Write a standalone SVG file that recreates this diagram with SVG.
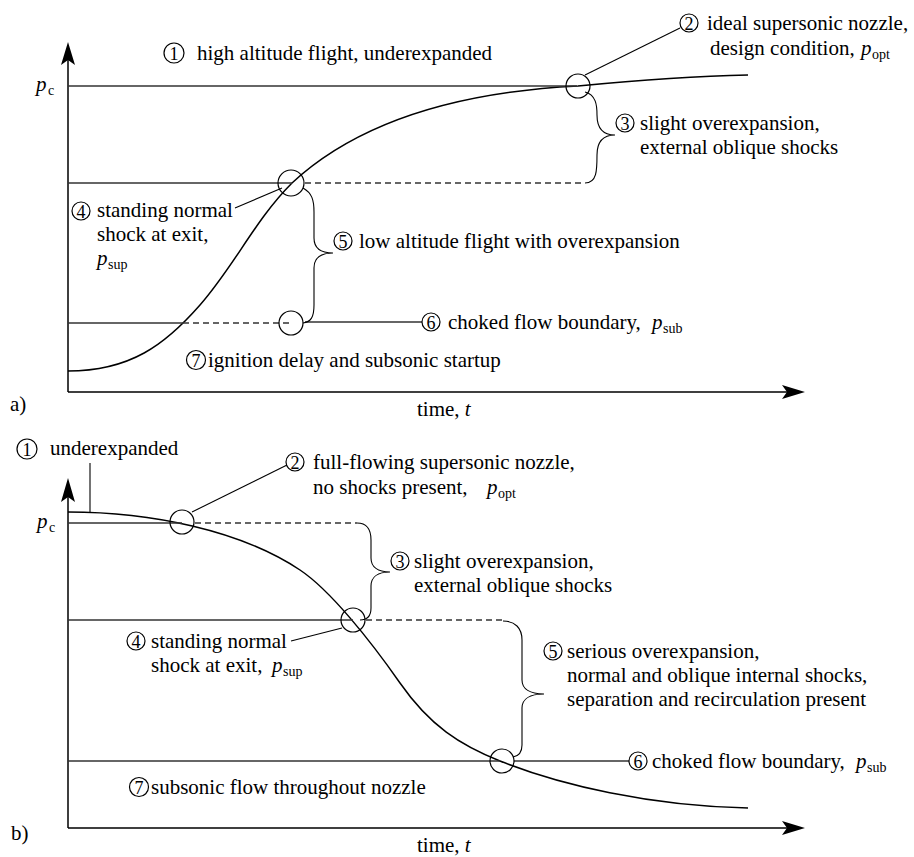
<svg xmlns="http://www.w3.org/2000/svg" width="914" height="857" viewBox="0 0 914 857">
<style>
text{font-family:"Liberation Serif","DejaVu Serif","Times New Roman",serif;font-size:21px;fill:#000}
.num{font-size:18px;text-anchor:middle}
.it{font-style:italic}
.sub{font-size:14px}
.ax{stroke:#000;stroke-width:1.5;fill:none}
.ln{stroke:#333;stroke-width:1.3;fill:none}
.dash{stroke:#333;stroke-width:1.3;fill:none;stroke-dasharray:6 4}
.cv{stroke:#000;stroke-width:1.5;fill:none}
.ring{stroke:#000;stroke-width:1.2;fill:none}
.lab{stroke:#000;stroke-width:1.1;fill:none}
.ah{fill:#000;stroke:none}
</style>
<rect width="914" height="857" fill="#fff"/>

<!-- ===== panel a ===== -->
<g id="axes-a">
<path class="ax" d="M68,392 V58 M68,392 H790"/>
<path class="ah" d="M68,42 L75,65 L68,60 L61,65 Z"/>
<path class="ah" d="M805,392 L782,385 L787,392 L782,399 Z"/>
<text x="36" y="91" class="it" font-size="22">p</text><text x="48" y="95" class="sub" font-size="15">c</text>
<text x="10" y="411">a)</text>
<text x="417" y="416">time, <tspan class="it">t</tspan></text>
</g>
<g id="curve-a">
<path class="cv" d="M68,371 C130,371 165,345 200,305 C235,265 255,220 292,183 C360,120 460,92 578,86 C640,80 700,76 748,75"/>
</g>
<g id="connectors-a">
<path class="ln" d="M68,86 H577"/>
<path class="ln" d="M68,183 H292"/>
<path class="dash" d="M305,183 H585"/>
<path class="ln" d="M68,323 H183"/>
<path class="dash" d="M183,323 H290"/>
<path class="ln" d="M305,322 H422"/>
<path class="lab" d="M585,75 L680,28"/>
<path class="lab" d="M235,208 L282,188"/>
<path class="lab" d="M585,92 C596,95 597,105 597,115 C597,128 603,135 615,135 C603,135 597,142 597,155 C597,170 597,183 585,183"/>
<path class="lab" d="M303,188 C312,193 314,200 314,212 L314,238 C314,248 320,253 333,253 C320,253 314,258 314,268 L314,305 C314,317 311,322 303,323"/>
</g>
<g id="a-point2"><circle class="ring" cx="578" cy="86" r="12"/></g>
<g id="a-point4"><circle class="ring" cx="291" cy="183" r="13"/></g>
<g id="a-point6"><circle class="ring" cx="291" cy="323" r="12"/></g>

<g id="a-label1"><circle class="ring" cx="174" cy="53" r="10"/><text class="num" x="174" y="59.5">1</text>
<text x="197" y="60">high altitude flight, underexpanded</text></g>
<g id="a-label2"><circle class="ring" cx="689" cy="23" r="9"/><text class="num" x="689" y="29.5">2</text>
<text x="707" y="30">ideal supersonic nozzle,</text>
<text x="710" y="55">design condition,</text><text x="861" y="55" class="it">p</text><text x="872" y="59" class="sub">opt</text></g>
<g id="a-label3"><circle class="ring" cx="625" cy="123" r="9"/><text class="num" x="625" y="129.5">3</text>
<text x="640" y="130">slight overexpansion,</text>
<text x="640" y="154">external oblique shocks</text></g>
<g id="a-label4"><circle class="ring" cx="81" cy="211" r="9"/><text class="num" x="81" y="217.5">4</text>
<text x="97" y="217">standing normal</text>
<text x="97" y="241">shock at exit,</text>
<text x="97" y="265" class="it">p</text><text x="108" y="269" class="sub">sup</text></g>
<g id="a-label5"><circle class="ring" cx="343" cy="241" r="9"/><text class="num" x="343" y="247.5">5</text>
<text x="359" y="248">low altitude flight with overexpansion</text></g>
<g id="a-label6"><circle class="ring" cx="431" cy="322" r="9"/><text class="num" x="431" y="328.5">6</text>
<text x="448" y="329">choked flow boundary,</text><text x="652" y="329" class="it">p</text><text x="663" y="333" class="sub">sub</text></g>
<g id="a-label7"><circle class="ring" cx="196" cy="360" r="9.5"/><text class="num" x="196" y="366.5">7</text>
<text x="208" y="367">ignition delay and subsonic startup</text></g>

<!-- ===== panel b ===== -->
<g id="axes-b">
<path class="ax" d="M68,828 V494 M68,828 H790"/>
<path class="ah" d="M68,478 L75,502 L68,497 L61,502 Z"/>
<path class="ah" d="M805,828 L782,821 L787,828 L782,835 Z"/>
<text x="37" y="528" class="it" font-size="22">p</text><text x="49" y="532" class="sub" font-size="15">c</text>
<text x="11" y="840">b)</text>
<text x="417" y="852">time, <tspan class="it">t</tspan></text>
</g>
<g id="curve-b">
<path class="cv" d="M68,512 C150,512 240,530 300,570 C330,590 370,640 400,683 C430,726 460,745 500,761 C560,785 650,806 748,808"/>
</g>
<g id="connectors-b">
<path class="ln" d="M68,523 H182"/>
<path class="dash" d="M195,523 H357"/>
<path class="ln" d="M68,620 H353"/>
<path class="dash" d="M366,620 H503"/>
<path class="ln" d="M68,761 H500"/>
<path class="ln" d="M514,761 H629"/>
<path class="lab" d="M90,463 V512"/>
<path class="lab" d="M192,512 L287,465"/>
<path class="lab" d="M291,641 L342,628"/>
<path class="lab" d="M357,523 C367,523 371,530 371,540 L371,558 C371,567 378,572 390,572 C378,572 371,577 371,586 L371,608 C371,616 368,620 360,620"/>
<path class="lab" d="M503,621 C515,621 522,628 522,640 L522,680 C522,689 530,694 544,694 C530,694 522,699 522,708 L522,745 C522,752 519,756 513,757"/>
</g>
<g id="b-point2"><circle class="ring" cx="182" cy="522" r="12"/></g>
<g id="b-point4"><circle class="ring" cx="353" cy="620" r="12"/></g>
<g id="b-point6"><circle class="ring" cx="502" cy="761" r="12"/></g>

<g id="b-label1"><circle class="ring" cx="27" cy="449" r="10"/><text class="num" x="27" y="455.5">1</text>
<text x="50" y="455">underexpanded</text></g>
<g id="b-label2"><circle class="ring" cx="295" cy="462" r="9"/><text class="num" x="295" y="468.5">2</text>
<text x="313" y="469">full-flowing supersonic nozzle,</text>
<text x="313" y="494">no shocks present,</text><text x="487" y="494" class="it">p</text><text x="498" y="498" class="sub">opt</text></g>
<g id="b-label3"><circle class="ring" cx="400" cy="561" r="9"/><text class="num" x="400" y="567.5">3</text>
<text x="414" y="568">slight overexpansion,</text>
<text x="414" y="592">external oblique shocks</text></g>
<g id="b-label4"><circle class="ring" cx="136" cy="641" r="9"/><text class="num" x="136" y="647.5">4</text>
<text x="151" y="648">standing normal</text>
<text x="151" y="672">shock at exit,</text><text x="272" y="672" class="it">p</text><text x="283" y="676" class="sub">sup</text></g>
<g id="b-label5"><circle class="ring" cx="553" cy="651" r="9"/><text class="num" x="553" y="657.5">5</text>
<text x="567" y="658">serious overexpansion,</text>
<text x="567" y="682">normal and oblique internal shocks,</text>
<text x="567" y="706">separation and recirculation present</text></g>
<g id="b-label6"><circle class="ring" cx="638" cy="761" r="9"/><text class="num" x="638" y="767.5">6</text>
<text x="652" y="768">choked flow boundary,</text><text x="856" y="768" class="it">p</text><text x="867" y="772" class="sub">sub</text></g>
<g id="b-label7"><circle class="ring" cx="139" cy="787" r="9.5"/><text class="num" x="139" y="793.5">7</text>
<text x="151" y="794">subsonic flow throughout nozzle</text></g>
</svg>
